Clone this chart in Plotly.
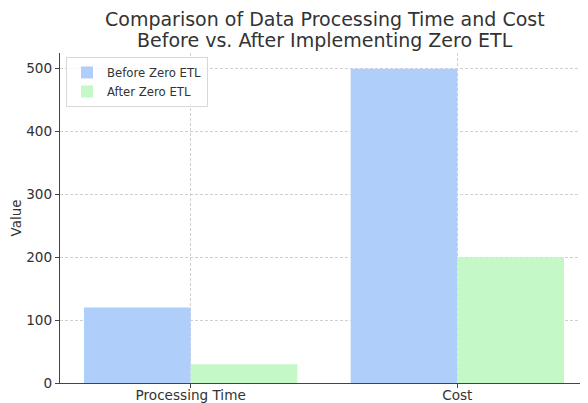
import plotly.graph_objects as go

categories = ["Processing Time", "Cost"]
before_values = [120, 500]
after_values = [30, 200]
series_names = ["Before Zero ETL", "After Zero ETL"]
y_ticks = [0, 100, 200, 300, 400, 500]
title_lines = ["Comparison of Data Processing Time and Cost",
               "Before vs. After Implementing Zero ETL"]

fig = go.Figure()
fig.add_trace(go.Bar(x=categories, y=before_values, name=series_names[0],
                     marker=dict(color="#b0cefa", line=dict(width=0))))
fig.add_trace(go.Bar(x=categories, y=after_values, name=series_names[1],
                     marker=dict(color="#c5f8c7", line=dict(width=0))))

# page has an 8px body margin, so the figure is 8px smaller than the window
fig.update_layout(
    width=580, height=395, autosize=False,
    margin=dict(l=52, r=0, t=45, b=20, pad=0, autoexpand=False),
    paper_bgcolor="white", plot_bgcolor="white",
    barmode="group", bargap=0.2, bargroupgap=0,
    font=dict(family="DejaVu Sans", color="#333333"),
    legend=dict(x=0.0114, y=0.988, xanchor="left", yanchor="top",
                bgcolor="rgba(255,255,255,0.8)", bordercolor="#d8d8d8", borderwidth=1,
                font=dict(size=11.7, color="#333333"), tracegroupgap=0,
                itemwidth=30),
    showlegend=True,
)
fig.add_annotation(text=title_lines[0], xref="paper", yref="paper", x=0.502, y=1.1018,
                   xanchor="center", yanchor="middle", showarrow=False,
                   font=dict(size=19, color="#333333"))
fig.add_annotation(text=title_lines[1], xref="paper", yref="paper", x=0.502, y=1.039,
                   xanchor="center", yanchor="middle", showarrow=False,
                   font=dict(size=19, color="#333333"))
fig.update_xaxes(range=[-0.49, 1.49], automargin=False, showgrid=True, gridcolor="#d0d0d0",
                 griddash="3px,2px", gridwidth=0.8, showline=True, linecolor="#444444",
                 linewidth=1.3, ticks="outside", ticklen=4, tickcolor="#444444",
                 ticklabelstandoff=-4,
                 tickfont=dict(size=13.6, color="#333333"))
fig.update_yaxes(range=[0, 525], automargin=False, tickvals=y_ticks, showgrid=True,
                 gridcolor="#d0d0d0", griddash="3px,2px", gridwidth=0.8, showline=True,
                 linecolor="#444444", linewidth=1.3, ticks="outside", ticklen=4,
                 tickcolor="#444444", zeroline=False, tickfont=dict(size=13.6, color="#333333"),
                 title=dict(text="Value", font=dict(size=13.5, color="#333333"), standoff=2))

fig.write_html("out.html")
